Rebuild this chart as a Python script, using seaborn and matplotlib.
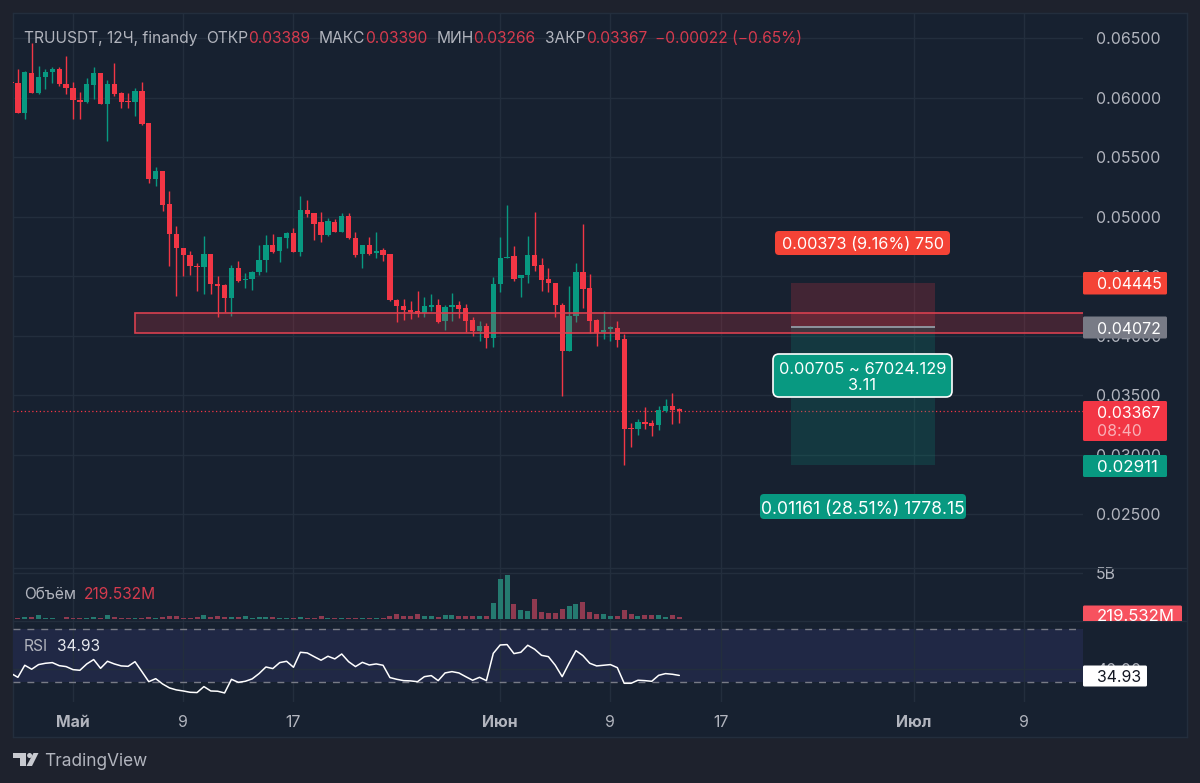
import matplotlib
matplotlib.use("Agg")
import matplotlib.dates as mdates
import matplotlib.patches as mpatches
from matplotlib import pyplot as plt
import numpy as np
import pandas as pd
import seaborn as sns

# candles, 12h each
start = "2024-04-26 12:00"
opens = [.06133,.06119,.05873,.06203,.06041,.06175,.06214,.06242,.06116,.06083,
         .05976,.05962,.06108,.06203,.05945,.06116,.06035,.05968,.05959,.06055,
         .05783,.05318,.05383,.05103,.04856,.04741,.0468,.04587,.04579,.04685,
         .04433,.04422,.04313,.04571,.04467,.04478,.04537,.04636,.04762,.04709,
         .04818,.0486,.04703,.05056,.05034,.04952,.04846,.04952,.04874,.05008,
         .04818,.04684,.04762,.04698,.04717,.04684,.04303,.0425,.04216,.04205,
         .04188,.04244,.04255,.04124,.04244,.04255,.04233,.04132,.04042,.04084,
         .03984,.04434,.0465,.04667,.04482,.0451,.0468,.04594,.04476,.04443,
         .04258,.03872,.04166,.04538,.04398,.04129,.04028,.04054,.04068,.0397,
         .03225,.03214,.03278,.03264,.0325,.0337,.0341,.03389]
highs = [.06153,.06237,.06225,.06455,.06265,.06237,.06259,.06259,.06349,.06127,
         .06043,.06167,.06253,.06203,.06147,.06287,.06046,.06041,.06077,.06127,
         .05783,.05416,.05383,.05212,.04921,.04741,.04711,.04607,.04834,.04685,
         .04503,.04431,.04593,.04627,.04529,.04545,.04759,.04846,.04852,.04832,
         .04874,.04902,.05174,.0514,.05034,.05036,.04986,.04978,.05028,.05028,
         .04874,.04762,.04832,.04874,.04734,.04684,.04306,.04306,.04292,.04376,
         .04328,.0435,.04311,.0426,.04362,.04294,.04266,.0416,.04124,.0411,
         .0449,.04832,.05098,.04756,.0451,.0484,.05042,.04656,.04572,.04443,
         .04278,.04418,.04608,.04938,.04516,.04138,.0421,.04082,.04126,.04012,
         .03264,.03298,.03398,.03292,.03412,.03466,.03522,.0339]
lows = [.06113,.05873,.05817,.06041,.0603,.06069,.06119,.06099,.06027,.05817,
        .05817,.05951,.05985,.05943,.05632,.06015,.05909,.05912,.05845,.05766,
        .05285,.05257,.05047,.04587,.04333,.04501,.04506,.04375,.04347,.04347,
        .04159,.04198,.04165,.04453,.04403,.04383,.0451,.04535,.04698,.04622,
        .04734,.047,.0467,.04994,.04804,.0479,.04838,.04871,.04871,.0481,
        .04661,.04569,.04681,.04656,.04628,.04294,.04118,.04132,.04138,.0416,
        .0416,.04208,.04104,.04048,.0412,.04146,.04034,.04,.03956,.039,
        .03908,.04364,.0465,.04462,.04328,.04446,.04544,.04378,.04367,.04154,
        .03496,.03872,.04112,.04236,.0402,.03914,.03972,.03956,.03908,.02911,
        .03068,.03166,.03214,.03158,.03208,.03362,.03258,.03266]
closes = [.06119,.05873,.06211,.06041,.06175,.06214,.06239,.06111,.0608,.05976,
          .05965,.06113,.06203,.05943,.06113,.06027,.05962,.05959,.06055,.05777,
          .05318,.0538,.05097,.04856,.04736,.04677,.04582,.04579,.04685,.04431,
          .04419,.04313,.04571,.04459,.04478,.04537,.04639,.04762,.04706,.04826,
          .0486,.047,.05056,.05022,.04938,.04846,.04961,.04874,.05008,.04818,
          .04681,.04762,.04686,.04709,.04675,.043,.0425,.04213,.04202,.0418,
          .0425,.04255,.04118,.04244,.04255,.04224,.04124,.04042,.04082,.03984,
          .04434,.04653,.04664,.04476,.0451,.0468,.04588,.04468,.04443,.04255,
          .03872,.04166,.04538,.04392,.04124,.04026,.0405,.0407,.03964,.03219,
          .03214,.03278,.03256,.03244,.03376,.0341,.03376,.03367]
# volume in millions
volume_m = [143,107,215,286,430,179,143,72,215,179,
            179,143,215,143,465,251,179,143,179,107,
            286,179,286,358,322,179,143,251,465,215,
            394,251,215,251,322,179,215,215,215,179,
            179,143,251,179,179,322,143,107,107,107,
            107,179,143,107,143,322,573,358,358,573,
            322,322,286,465,465,394,358,358,322,358,
            1718,4368,4761,1611,967,931,2184,788,680,680,
            1110,1468,1683,1862,788,537,573,358,358,967,
            573,358,465,430,430,286,430,219.532]
rsi = [36.5,33.5,42.6,39.6,43.1,44.1,44.6,42.3,41.6,39.3,
       38.8,43.6,46.9,40.3,45.6,43.6,42.1,41.8,45.3,37.8,
       30.2,32.5,28.5,25.5,24.0,23.2,22.2,22.0,26.5,23.2,
       23.0,21.7,32.0,29.7,30.5,32.3,36.3,41.3,40.1,44.6,
       45.6,41.1,52.4,51.9,49.1,46.4,49.4,47.4,51.1,45.3,
       41.6,44.8,42.8,43.6,42.6,33.3,32.0,31.0,30.8,30.2,
       34.0,34.8,31.0,36.8,37.8,36.8,34.0,31.3,33.5,31.0,
       51.6,57.9,58.2,51.4,52.4,57.7,54.7,50.1,49.1,42.6,
       34.0,44.1,53.6,49.9,44.1,42.1,42.6,43.1,40.8,29.0,
       29.0,31.3,31.0,30.5,35.0,36.3,35.8,34.93]

price_ticks = [.025,.03,.035,.04,.045,.05,.055,.06,.065]
date_ticks = ["2024-05-01","2024-05-09","2024-05-17","2024-06-01","2024-06-09","2024-06-17","2024-07-01","2024-07-09"]
date_labels = ["Май","9","17","Июн","9","17","Июл","9"]
zone_low, zone_high = .04019, .04191
zone_start = "2024-05-05 11:30"
stop_price, entry_price, target_price = .04445, .04072, .02911
pos_start, pos_end = "2024-06-22 03:00", "2024-07-02 13:00"

BG = "#1e222d"
PANE = "#172130"
GRID = "#232e3d"
TEXT = "#b2b5be"
UP = "#089981"
DOWN = "#f23645"
DIMRED = "#d63b4e"

df = pd.DataFrame({"time": pd.date_range(start, periods=len(opens), freq="12h"),
                   "open": opens, "high": highs, "low": lows, "close": closes,
                   "volume": np.array(volume_m) * 1e6, "rsi": rsi})
df["t"] = mdates.date2num(df["time"])
df["up"] = df["close"] >= df["open"]

sns.set_theme(style="dark", rc={"axes.grid": False})
plt.rcParams["font.family"] = ["Inter", "DejaVu Sans"]
plt.rcParams["axes.unicode_minus"] = False

W, H = 1200, 783
fig = plt.figure(figsize=(12, 7.83), dpi=100, facecolor=BG)


def add_axes(x0, y0, x1, y1, **kw):
    # box given in picture pixels, y going down
    return fig.add_axes([x0 / W, 1 - y1 / H, (x1 - x0) / W, (y1 - y0) / H], **kw)


# pane background behind everything
ax_bg = add_axes(12.5, 12.5, 1186.5, 737, zorder=0)
ax_bg.set_facecolor(PANE)
ax_bg.set_xticks([])
ax_bg.set_yticks([])
for s in ax_bg.spines.values():
    s.set_color(GRID)
    s.set_linewidth(1)

ax_price = add_axes(13, 13, 1083, 568, zorder=1)
ax_vol = add_axes(13, 568, 1083, 621, zorder=1)
ax_rsi = add_axes(13, 621, 1083, 701.7, zorder=1)

xmin = mdates.date2num(pd.Timestamp("2024-05-01")) - 60 / 13.78
xmax = mdates.date2num(pd.Timestamp("2024-05-01")) + 1010 / 13.78
tick_nums = mdates.date2num(pd.to_datetime(date_ticks))

#candles
colors = [UP if u else DOWN for u in df["up"]]
ax_price.vlines(df["t"], df["low"], df["high"], colors=colors, linewidth=1.0, zorder=3)
body_low = df[["open", "close"]].min(axis=1)
body_h = (df["open"] - df["close"]).abs().clip(lower=.00006)
ax_price.bar(df["t"], body_h, bottom=body_low, width=.385, color=colors, linewidth=0, zorder=3)

# last price line
ax_price.axhline(closes[-1], color=DOWN, linewidth=0.9, linestyle=(0, (1, 2)), zorder=2)

# zone rectangle on top of the candles
zone_x = mdates.date2num(pd.Timestamp(zone_start))
ax_price.add_patch(mpatches.Rectangle((zone_x, zone_low), xmax - zone_x + 1, zone_high - zone_low,
                                      facecolor=DOWN, alpha=.2, linewidth=0, zorder=4))
ax_price.add_patch(mpatches.Rectangle((zone_x, zone_low), xmax - zone_x + 1, zone_high - zone_low,
                                      facecolor="none", edgecolor="#d9404f", linewidth=1.2, zorder=4))

# long position tool
p0 = mdates.date2num(pd.Timestamp(pos_start))
p1 = mdates.date2num(pd.Timestamp(pos_end))
ax_price.add_patch(mpatches.Rectangle((p0, entry_price), p1 - p0, stop_price - entry_price,
                                      facecolor=DOWN, alpha=.2, linewidth=0, zorder=3))
ax_price.add_patch(mpatches.Rectangle((p0, target_price), p1 - p0, entry_price - target_price,
                                      facecolor=UP, alpha=.2, linewidth=0, zorder=3))
ax_price.hlines(entry_price, p0, p1, colors="#8f939d", linewidth=1.4, zorder=5)

ax_price.set_ylim(.0205, .0671)
ax_price.set_yticks(price_ticks)
ax_price.set_yticklabels([f"{p:.5f}" for p in price_ticks])

# volume
sns.barplot(data=df, x="t", y="volume", hue="up", palette={True: "#257a70", False: "#8f3a50"},
            native_scale=True, dodge=False, legend=False, errorbar=None, width=.72,
            saturation=1, linewidth=0, ax=ax_vol, zorder=3)
ax_vol.set_ylim(-.18e9, 5.54e9)
ax_vol.set_yticks([5e9])
ax_vol.set_yticklabels(["5B"])

# rsi
ax_rsi.axhspan(30, 70, color="#202845", linewidth=0, zorder=0)
sns.lineplot(data=df, x="t", y="rsi", color="white", linewidth=1.1, ax=ax_rsi, zorder=4)
for level in [70, 30]:
    ax_rsi.axhline(level, color="#787b86", linewidth=1, linestyle=(0, (5, 5)), zorder=3)
ax_rsi.set_ylim(15.1, 76)
ax_rsi.set_yticks([40])
ax_rsi.set_yticklabels(["40.00"])

for ax in [ax_price, ax_vol, ax_rsi]:
    ax.set_facecolor("none")
    ax.set_xlim(xmin, xmax)
    ax.set_xticks(tick_nums)
    ax.set_xlabel("")
    ax.set_ylabel("")
    ax.grid(True, color=GRID, linewidth=1, zorder=0)
    ax.set_axisbelow(True)
    ax.yaxis.tick_right()
    ax.tick_params(axis="y", length=0, pad=9.5, labelcolor=TEXT, labelsize=11.4)
    ax.tick_params(axis="x", length=0, labelbottom=False)
    for lab in ax.get_yticklabels():
        lab.set_horizontalalignment("left")
    for s in ax.spines.values():
        s.set_visible(False)

ax_rsi.tick_params(axis="x", labelbottom=True, pad=9.5, labelcolor=TEXT, labelsize=11.4)
ax_rsi.set_xticklabels(date_labels)
for lab, txt_ in zip(ax_rsi.get_xticklabels(), date_labels):
    if not txt_.isdigit():
        lab.set_fontweight("bold")

# overlay in picture pixels for the header, legends and axis labels
ov = add_axes(0, 0, W, H, zorder=5)
ov.set_xlim(0, W)
ov.set_ylim(H, 0)
ov.axis("off")
ov.patch.set_alpha(0)

# separators of the panes
ov.plot([13, 1186], [568, 568], color=GRID, linewidth=1)
ov.plot([13, 1186], [621, 621], color=GRID, linewidth=1)


def txt(x, y, s, color=TEXT, size=11.2, ha="left", **kw):
    return ov.text(x, y, s, color=color, fontsize=size, ha=ha, va="center_baseline", **kw)


header = [(24, "TRUUSDT, 12Ч, finandy", TEXT), (206, "ОТКР", TEXT), (248, "0.03389", DIMRED),
          (319, "МАКС", TEXT), (365, "0.03390", DIMRED), (437, "МИН", TEXT), (473, "0.03266", DIMRED),
          (545, "ЗАКР", TEXT), (586, "0.03367", DIMRED), (655, "−0.00022 (−0.65%)", DIMRED)]
for x, s, c in header:
    txt(x, 37, s, color=c)

txt(24, 593, "Объём")
txt(84, 593, "219.532M", color=DIMRED)
txt(24, 645, "RSI")
txt(57, 645, "34.93", color="#e6e8ee")


def box(x0, y0, x1, y1, color, radius=2, edge="none", lw=0):
    p = mpatches.FancyBboxPatch((x0 + radius, y0 + radius), x1 - x0 - 2 * radius, y1 - y0 - 2 * radius,
                                boxstyle=f"round,pad={radius},rounding_size={radius}",
                                facecolor=color, edgecolor=edge, linewidth=lw, zorder=6)
    ov.add_patch(p)
    return p


# drawing labels
box(775, 231, 950, 255, "#f44336", radius=4)
txt(862.5, 243, "0.00373 (9.16%) 750", color="white", size=11.7, ha="center", zorder=7)
box(773, 354, 952, 397, UP, radius=6, edge="white", lw=1.2)
txt(862.5, 368, "0.00705 ~ 67024.129", color="white", size=11.8, ha="center", zorder=7)
txt(862.5, 384, "3.11", color="white", size=11.8, ha="center", zorder=7)
box(760, 494, 966, 519, UP, radius=4)
txt(863, 507, "0.01161 (28.51%) 1778.15", color="white", size=12.6, ha="center", zorder=7)

# price axis labels
box(1083, 272, 1167, 294.5, "#f44336", radius=1.5)
txt(1096.5, 283, "0.04445", color="white", size=11.4, zorder=7)
box(1083, 316.5, 1167, 338.5, "#787b86", radius=1.5)
txt(1096.5, 327.5, "0.04072", color="white", size=11.4, zorder=7)
box(1083, 401, 1167, 441, DOWN, radius=1.5)
txt(1096.5, 412, "0.03367", color="white", size=11.4, zorder=7)
txt(1096.5, 430, "08:40", color="#f9b0b7", size=11.4, zorder=7)
box(1083, 455, 1167, 477, UP, radius=1.5)
txt(1096.5, 466, "0.02911", color="white", size=12.2, zorder=7)
box(1083, 665.5, 1147, 686.5, "white", radius=1.5)
txt(1096.5, 675.5, "34.93", color="#131722", size=11.4, zorder=7)

# volume label is cut off by the pane below it
clip = mpatches.Rectangle((1080, 600), 110, 20.7, transform=ov.transData)
vol_box = box(1083, 605.5, 1182, 626, "#f7525f", radius=1.5)
vol_box.set_clip_path(clip)
vol_txt = txt(1096.5, 615, "219.532M", color="white", size=12, zorder=7)
vol_txt.set_clip_path(clip)

# TradingView logo
logo = "#c8cad0"
ov.add_patch(mpatches.Polygon([(13, 753), (26, 753), (26, 766), (20, 766), (20, 758), (13, 758)], facecolor=logo, linewidth=0))
ov.add_patch(mpatches.Circle((29.6, 755.5), 2.5, facecolor=logo, linewidth=0))
ov.add_patch(mpatches.Polygon([(38.5, 753), (33.5, 753), (26.5, 766), (32, 766)], facecolor=logo, linewidth=0))
txt(44, 759.5, "TradingView", size=12.4)

fig.savefig("out.png", dpi=100, facecolor=BG)
